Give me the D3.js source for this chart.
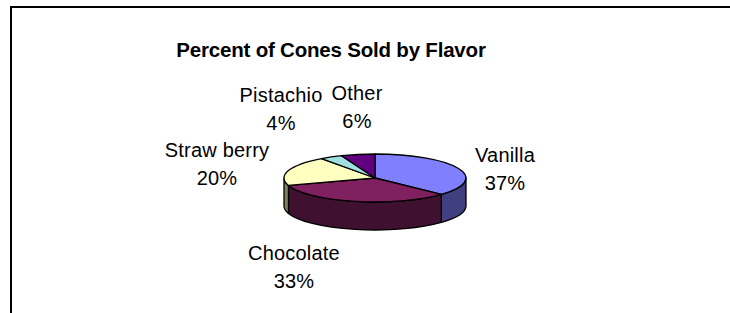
<!DOCTYPE html>
<html>
<head>
<meta charset="utf-8">
<script src="https://cdn.jsdelivr.net/npm/d3@7"></script>
<style>
  html, body { margin: 0; padding: 0; background: #fff; }
  svg { display: block; }
  text { font-family: "Liberation Sans", Arial, sans-serif; fill: #000; }
</style>
</head>
<body>
<svg id="chart" width="730" height="313"></svg>
<script>
// ---- data ----
const title = "Percent of Cones Sold by Flavor";
const categories = ["Vanilla", "Chocolate", "Straw berry", "Pistachio", "Other"];
const values = [37, 33, 20, 4, 6];
const topColors = ["#8080FF", "#802060", "#FFFFC0", "#A0E0E0", "#600080"];

// ---- layout ----
const W = 730, H = 313;
const cx = 375, cy = 178, rx = 91, ry = 24, depth = 28;
// label block offsets (name line centre) relative to pie centre
const labelOffsets = [[130, -23], [-81, 75], [-158, -28], [-94, -83], [-18, -85]];
const lineGap = 28;

const svg = d3.select("#chart");

// frame
svg.append("path")
  .attr("d", `M11,${H} L11,7 L${W},7`)
  .attr("fill", "none").attr("stroke", "#000").attr("stroke-width", 2);

// title
svg.append("text")
  .attr("x", 331).attr("y", 57)
  .attr("text-anchor", "middle")
  .attr("font-size", 20.5).attr("font-weight", "bold")
  .attr("letter-spacing", -0.2)
  .text(title);

const pie = d3.pie().sort(null).value(d => d)(values);
const total = d3.sum(values);
const pct = d3.format(".0%");

const pt = (a, dy = 0) => [cx + rx * Math.sin(a), cy - ry * Math.cos(a) + dy];
const shade = c => { const k = d3.rgb(c); return d3.rgb(k.r * 0.5, k.g * 0.5, k.b * 0.5).formatHex(); };

const g = svg.append("g");
// sides (front half only: angles between PI/2 and 3PI/2)
pie.forEach((s, i) => {
  const s0 = Math.max(s.startAngle, Math.PI / 2);
  const s1 = Math.min(s.endAngle, 3 * Math.PI / 2);
  if (s1 <= s0) return;
  const p0 = pt(s0), p1 = pt(s1), q1 = pt(s1, depth), q0 = pt(s0, depth);
  const large = (s1 - s0) > Math.PI ? 1 : 0;
  const d = `M${p0} A${rx},${ry} 0 ${large} 1 ${p1} L${q1} A${rx},${ry} 0 ${large} 0 ${q0} Z`;
  g.append("path").attr("d", d)
    .attr("fill", shade(topColors[i]))
    .attr("stroke", "#000").attr("stroke-width", 1.3).attr("stroke-linejoin", "round");
});

// tops
pie.forEach((s, i) => {
  const p0 = pt(s.startAngle), p1 = pt(s.endAngle);
  const large = (s.endAngle - s.startAngle) > Math.PI ? 1 : 0;
  const d = `M${cx},${cy} L${p0} A${rx},${ry} 0 ${large} 1 ${p1} Z`;
  g.append("path").attr("d", d)
    .attr("fill", topColors[i])
    .attr("stroke", "#000").attr("stroke-width", 1.3).attr("stroke-linejoin", "round");
});

// labels
pie.forEach((s, i) => {
  const [dx, dy] = labelOffsets[i];
  const t = svg.append("text")
    .attr("text-anchor", "middle")
    .attr("font-size", 20)
    .attr("letter-spacing", 0.2);
  t.append("tspan").attr("x", cx + dx).attr("y", cy + dy + 7).text(categories[i]);
  t.append("tspan").attr("x", cx + dx).attr("y", cy + dy + 7 + lineGap).text(pct(values[i] / total));
});
</script>
</body>
</html>
